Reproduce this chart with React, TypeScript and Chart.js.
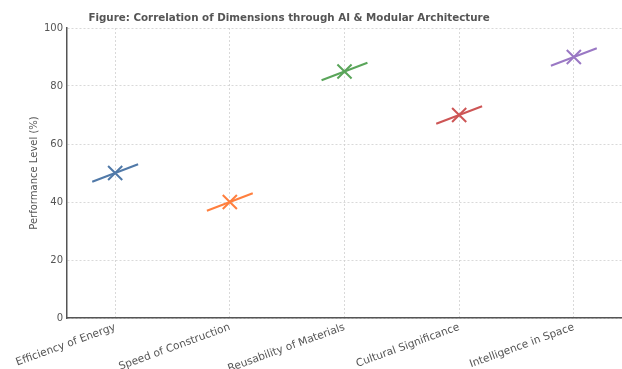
import React, { useEffect, useRef } from "react";
import { Chart, registerables } from "chart.js";

Chart.register(...registerables);

const categories = [
  "Efficiency of Energy",
  "Speed of Construction",
  "Reusability of Materials",
  "Cultural Significance",
  "Intelligence in Space",
];
const performance = [50, 40, 85, 70, 90];
const colors = ["#5079a8", "#ff7f3e", "#5aa55a", "#cd5555", "#9a78c4"];
const trendHalfWidth = 0.2;
const trendHalfRise = 3;
const yTicks = [0, 20, 40, 60, 80, 100];
const titleText = "Figure: Correlation of Dimensions through AI & Modular Architecture";
const yTitle = "Performance Level (%)";

const FONT = '"DejaVu Sans", sans-serif';
const TEXT = "#555555";

export default function App() {
  const ref = useRef<HTMLCanvasElement | null>(null);

  useEffect(() => {
    if (!ref.current) return;
    const datasets: any[] = [];
    categories.forEach((_, i) => {
      const v = performance[i];
      datasets.push({
        data: [
          { x: i - trendHalfWidth, y: v - trendHalfRise },
          { x: i + trendHalfWidth, y: v + trendHalfRise },
        ],
        showLine: true,
        borderColor: colors[i],
        borderWidth: 2,
        pointRadius: 0,
      });
      datasets.push({
        data: [{ x: i, y: v }],
        pointStyle: "crossRot",
        pointRadius: 10,
        pointBorderWidth: 2,
        borderColor: colors[i],
        backgroundColor: colors[i],
      });
    });

    const titlePlugin = {
      id: "customTitle",
      afterDraw(chart: any) {
        const ctx = chart.ctx;
        ctx.save();
        ctx.font = `bold 10.3px ${FONT}`;
        ctx.fillStyle = TEXT;
        ctx.textAlign = "center";
        ctx.textBaseline = "middle";
        ctx.fillText(titleText, 289, 18);
        ctx.restore();
      },
    };

    const gridOpts = { color: "#d0d0d0", lineWidth: 0.8, drawTicks: false };
    const borderOpts = { display: true, color: "#555555", width: 1.5, dash: [2, 2] };

    const chart = new Chart(ref.current, {
      type: "scatter",
      data: { datasets },
      options: {
        animation: false,
        responsive: false,
        layout: { autoPadding: false, padding: { top: 28, left: 0, right: 0, bottom: 0 } },
        plugins: { legend: { display: false }, tooltip: { enabled: false }, title: { display: false } },
        scales: {
          x: {
            type: "linear",
            min: -0.42,
            max: 4.42,
            afterBuildTicks: (s: any) => {
              s.ticks = categories.map((_, i) => ({ value: i }));
            },
            afterFit: (s: any) => {
              s.height = 51;
              s.paddingRight = 0;
            },
            ticks: {
              autoSkip: false,
              minRotation: 20,
              maxRotation: 20,
              padding: 3,
              color: TEXT,
              font: { family: FONT, size: 10.6 },
              callback: (v: any) => categories[v as number] ?? "",
            },
            grid: gridOpts,
            border: borderOpts,
          },
          y: {
            min: 0,
            max: 100,
            afterBuildTicks: (s: any) => {
              s.ticks = yTicks.map((v) => ({ value: v }));
            },
            afterFit: (s: any) => {
              s.width = 67;
            },
            ticks: {
              padding: 4,
              color: TEXT,
              font: { family: FONT, size: 10 },
            },
            title: {
              display: true,
              text: yTitle,
              color: TEXT,
              font: { family: FONT, size: 10 },
              padding: { top: 28, bottom: 0 },
            },
            grid: gridOpts,
            border: borderOpts,
          },
        },
      },
      plugins: [titlePlugin],
    });
    return () => chart.destroy();
  }, []);

  return (
    <div style={{ position: "fixed", left: 0, top: 0, width: 622, height: 369, background: "#fff" }}>
      <canvas ref={ref} width={622} height={369} style={{ display: "block" }} />
    </div>
  );
}
